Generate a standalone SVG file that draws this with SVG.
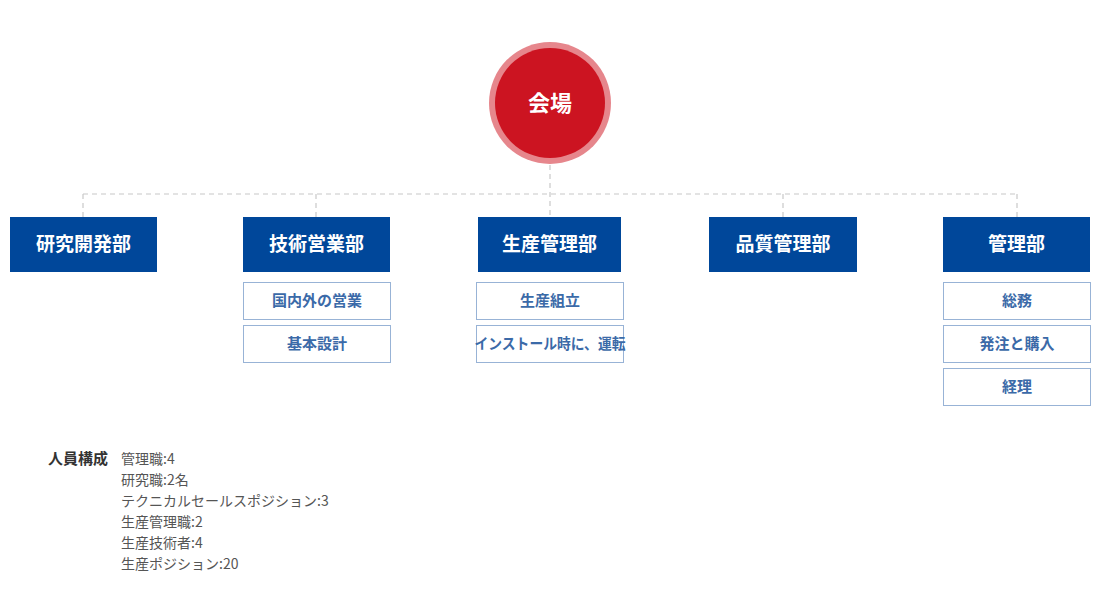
<svg xmlns="http://www.w3.org/2000/svg" width="1100" height="603" viewBox="0 0 1100 603">
<style>
.dash{stroke:#c8c8c8;stroke-width:1.2;stroke-dasharray:5 4;fill:none}
.hd{fill:#00479a}
.hdt{fill:#fff;font-family:"Noto Sans CJK JP","Noto Sans",sans-serif;font-weight:700;font-size:19px;text-anchor:middle}
.sb{fill:#fff;stroke:#98b3d6;stroke-width:1}
.sbt{fill:#3b6aa8;font-family:"Noto Sans CJK JP","Noto Sans",sans-serif;font-weight:700;font-size:15px;text-anchor:middle}
.st{fill:#555;font-family:"Noto Sans CJK JP","Noto Sans",sans-serif;font-size:14px}
.stb{fill:#333;font-family:"Noto Sans CJK JP","Noto Sans",sans-serif;font-size:15px;font-weight:700}
</style>
<rect width="1100" height="603" fill="#fff"/>
<g id="connectors">
<path class="dash" d="M550 165V217"/>
<path class="dash" d="M83 194H1017"/>
<path class="dash" d="M83 194V217M316 194V217M783 194V217M1017 194V217"/>
</g>
<g id="root">
<circle cx="550" cy="103" r="61" fill="#e6868c"/>
<circle cx="550" cy="103" r="55" fill="#cc1421"/>
<text x="550" y="111" fill="#fff" font-family="'Noto Sans CJK JP','Noto Sans',sans-serif" font-weight="700" font-size="22" text-anchor="middle">会場</text>
</g>
<g id="dept1">
<rect class="hd" x="10" y="217" width="147" height="55"/>
<text class="hdt" x="83.5" y="251">研究開発部</text>
</g>
<g id="dept2">
<rect class="hd" x="243" y="217" width="147" height="55"/>
<text class="hdt" x="316.5" y="251">技術営業部</text>
</g>
<g id="dept2-sub1">
<rect class="sb" x="243.5" y="282.5" width="147" height="37"/>
<text class="sbt" x="317" y="306">国内外の営業</text>
</g>
<g id="dept2-sub2">
<rect class="sb" x="243.5" y="325.5" width="147" height="37"/>
<text class="sbt" x="317" y="349">基本設計</text>
</g>
<g id="dept3">
<rect class="hd" x="478" y="217" width="143" height="55"/>
<text class="hdt" x="549.5" y="251">生産管理部</text>
</g>
<g id="dept3-sub1">
<rect class="sb" x="476.5" y="282.5" width="147" height="37"/>
<text class="sbt" x="550" y="306">生産組立</text>
</g>
<g id="dept3-sub2">
<rect class="sb" x="476.5" y="325.5" width="147" height="37"/>
<text class="sbt" x="550" y="349" textLength="151" lengthAdjust="spacingAndGlyphs">インストール時に、運転</text>
</g>
<g id="dept4">
<rect class="hd" x="709" y="217" width="148" height="55"/>
<text class="hdt" x="783" y="251">品質管理部</text>
</g>
<g id="dept5">
<rect class="hd" x="943" y="217" width="147" height="55"/>
<text class="hdt" x="1016.5" y="251">管理部</text>
</g>
<g id="dept5-sub1">
<rect class="sb" x="943.5" y="282.5" width="147" height="37"/>
<text class="sbt" x="1017" y="306">総務</text>
</g>
<g id="dept5-sub2">
<rect class="sb" x="943.5" y="325.5" width="147" height="37"/>
<text class="sbt" x="1017" y="349">発注と購入</text>
</g>
<g id="dept5-sub3">
<rect class="sb" x="943.5" y="368.5" width="147" height="37"/>
<text class="sbt" x="1017" y="392">経理</text>
</g>
<g id="staff">
<text class="stb" x="48" y="464">人員構成</text>
<text class="st" x="121" y="464">管理職:4</text>
<text class="st" x="121" y="485">研究職:2名</text>
<text class="st" x="121" y="506">テクニカルセールスポジション:3</text>
<text class="st" x="121" y="527">生産管理職:2</text>
<text class="st" x="121" y="548">生産技術者:4</text>
<text class="st" x="121" y="569">生産ポジション:20</text>
</g>
</svg>
